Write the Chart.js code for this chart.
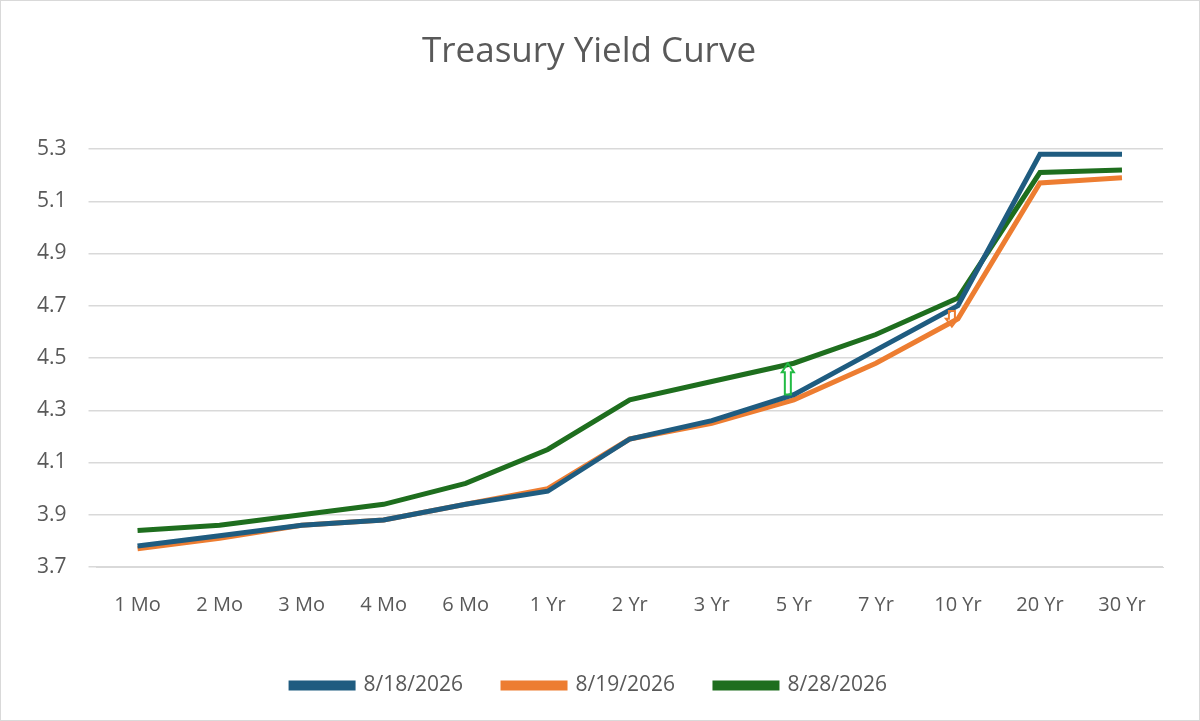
<!DOCTYPE html>
<html><head><script src="https://cdn.jsdelivr.net/npm/chart.js"></script>
<style>html,body{margin:0;background:#fff}#w{width:1200px;height:721px;box-sizing:border-box;border:1px solid #d9d9d9}</style>
</head><body><div id="w"><canvas id="c"></canvas></div>
<script>
const categories=["1 Mo","2 Mo","3 Mo","4 Mo","6 Mo","1 Yr","2 Yr","3 Yr","5 Yr","7 Yr","10 Yr","20 Yr","30 Yr"];
const s0818=[3.78,3.82,3.86,3.88,3.94,3.99,4.19,4.26,4.36,4.53,4.70,5.28,5.28];
const s0819=[3.77,3.81,3.86,3.88,3.94,4.00,4.19,4.25,4.34,4.48,4.65,5.17,5.19];
const s0828=[3.84,3.86,3.90,3.94,4.02,4.15,4.34,4.41,4.48,4.59,4.73,5.21,5.22];
const arrows=[{i:8,from:4.36,to:4.48,color:"#22bb44"},{i:10,from:4.68,to:4.62,color:"#ED7D31"}];
const arrowPlugin={id:"arr",afterDatasetsDraw(ch){const x=ch.scales.x,y=ch.scales.y,c=ch.ctx;
arrows.forEach(a=>{const px=x.getPixelForValue(a.i)-6,y1=y.getPixelForValue(a.from),y2=y.getPixelForValue(a.to);
const d=y2<y1?-1:1,w=3,hw=6,hl=Math.min(9,Math.abs(y2-y1)*0.5);
c.save();c.strokeStyle=a.color;c.lineWidth=2;c.beginPath();
c.moveTo(px-w,y1);c.lineTo(px-w,y2-d*hl);c.lineTo(px-hw,y2-d*hl);c.lineTo(px,y2);c.lineTo(px+hw,y2-d*hl);c.lineTo(px+w,y2-d*hl);c.lineTo(px+w,y1);c.closePath();c.stroke();c.restore();});}};
const mk=(l,d,col)=>({label:l,data:d,borderColor:col,backgroundColor:col,borderWidth:5,pointRadius:0,tension:0});
new Chart(document.getElementById("c"),{type:"line",
data:{labels:categories,datasets:[mk("8/18/2026",s0818,"#1F5C80"),mk("8/19/2026",s0819,"#ED7D31"),mk("8/28/2026",s0828,"#1E6E1E")]},
options:{responsive:true,maintainAspectRatio:false,animation:false,
layout:{padding:{left:14,right:36,top:20,bottom:14}},
plugins:{title:{display:true,text:"Treasury Yield Curve",color:"#595959",font:{family:"Open Sans",size:35,weight:"normal"},padding:{top:10,bottom:76}},
legend:{position:"bottom",labels:{color:"#595959",font:{family:"Open Sans",size:21},boxWidth:62,boxHeight:5,padding:40}}},
scales:{x:{offset:true,grid:{display:false},border:{color:"#d9d9d9"},ticks:{color:"#595959",font:{family:"Open Sans",size:20},padding:18}},
y:{min:3.7,max:5.3,border:{display:false},grid:{color:"#d9d9d9",lineWidth:1.5},ticks:{stepSize:0.2,color:"#595959",font:{family:"Open Sans",size:21},padding:22,callback:v=>v.toFixed(1)}}}},
plugins:[arrowPlugin]});
</script></body></html>
